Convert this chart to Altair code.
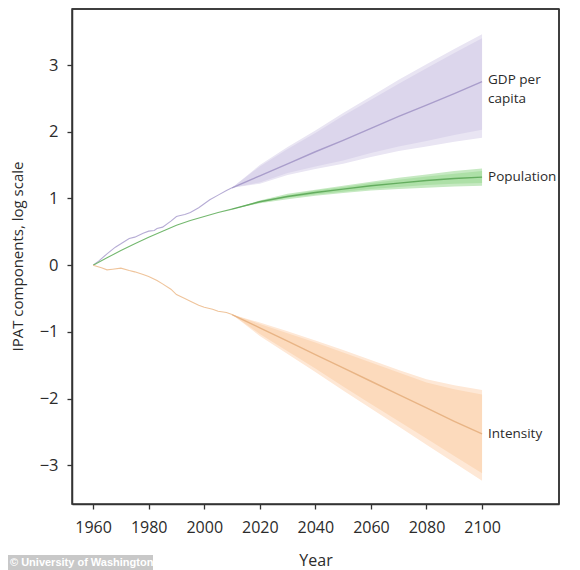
import altair as alt
import pandas as pd

# ---------------- data ----------------
gdp_hist_years = [1960, 1962, 1965, 1968, 1970, 1973, 1975, 1978, 1980, 1982, 1983, 1985,
                  1988, 1990, 1991, 1993, 1995, 1998, 2000, 2002, 2005, 2008, 2010]
gdp_hist_vals = [0.0, 0.06, 0.17, 0.27, 0.32, 0.40, 0.42, 0.48, 0.51, 0.52, 0.55, 0.57,
                 0.66, 0.73, 0.74, 0.76, 0.79, 0.86, 0.92, 0.98, 1.05, 1.12, 1.16]

pop_hist_years = [1960, 1965, 1970, 1975, 1980, 1985, 1990, 1995, 2000, 2005, 2010]
pop_hist_vals = [0.0, 0.11, 0.22, 0.32, 0.42, 0.51, 0.60, 0.67, 0.73, 0.79, 0.84]

int_hist_years = [1960, 1963, 1965, 1967, 1970, 1973, 1975, 1978, 1980, 1983, 1985, 1988,
                  1990, 1993, 1995, 1998, 2000, 2003, 2005, 2008, 2010]
int_hist_vals = [0.0, -0.04, -0.07, -0.06, -0.045, -0.08, -0.10, -0.14, -0.17, -0.23, -0.28,
                 -0.36, -0.44, -0.50, -0.54, -0.60, -0.63, -0.66, -0.69, -0.71, -0.74]

proj_years = [2010, 2020, 2030, 2040, 2050, 2060, 2070, 2080, 2090, 2100]

gdp_med = [1.16, 1.34, 1.52, 1.70, 1.87, 2.05, 2.23, 2.40, 2.57, 2.75]
gdp_hi95 = [1.16, 1.50, 1.77, 2.02, 2.28, 2.53, 2.78, 3.01, 3.24, 3.46]
gdp_lo95 = [1.16, 1.22, 1.35, 1.44, 1.52, 1.62, 1.71, 1.78, 1.85, 1.91]
gdp_hi80 = [1.16, 1.48, 1.74, 1.98, 2.24, 2.48, 2.72, 2.95, 3.18, 3.40]
gdp_lo80 = [1.16, 1.24, 1.38, 1.48, 1.57, 1.68, 1.78, 1.86, 1.95, 2.03]

pop_med = [0.84, 0.95, 1.03, 1.09, 1.14, 1.19, 1.23, 1.27, 1.30, 1.32]
pop_hi95 = [0.84, 0.97, 1.07, 1.13, 1.19, 1.25, 1.31, 1.36, 1.41, 1.45]
pop_lo95 = [0.84, 0.93, 0.99, 1.04, 1.08, 1.12, 1.14, 1.16, 1.18, 1.19]
pop_hi80 = [0.84, 0.96, 1.05, 1.12, 1.17, 1.23, 1.28, 1.33, 1.37, 1.41]
pop_lo80 = [0.84, 0.94, 1.01, 1.06, 1.10, 1.14, 1.17, 1.20, 1.22, 1.23]

int_med = [-0.74, -0.94, -1.14, -1.34, -1.54, -1.74, -1.94, -2.14, -2.34, -2.53]
int_hi95 = [-0.74, -0.86, -0.99, -1.13, -1.27, -1.42, -1.57, -1.71, -1.80, -1.87]
int_lo95 = [-0.74, -1.06, -1.33, -1.60, -1.88, -2.15, -2.42, -2.69, -2.96, -3.23]
int_hi80 = [-0.74, -0.88, -1.02, -1.16, -1.31, -1.46, -1.61, -1.76, -1.86, -1.94]
int_lo80 = [-0.74, -1.03, -1.29, -1.55, -1.82, -2.08, -2.34, -2.60, -2.86, -3.12]

series_labels = ["GDP per\ncapita", "Population", "Intensity"]

y_ticks = [-3, -2, -1, 0, 1, 2, 3]
x_ticks = [1960, 1980, 2000, 2020, 2040, 2060, 2080, 2100]

# ---------------- styling ----------------
FONT = "Open Sans"
TXT = "#2b2b2b"
FRAME = "#333333"
W, H = 487, 495
styles = {
    "gdp": dict(outer="#e9e5f3", inner="#dcd6ec", line="#a99dcb", hist="#b6acd5"),
    "pop": dict(outer="#c6e9c2", inner="#ade0a7", line="#64ad5f", hist="#74b86f"),
    "int": dict(outer="#fee8d6", inner="#fcdabc", line="#e8b485", hist="#efc49b"),
}

xscale = alt.Scale(domain=[1952.4, 2127.7], nice=False, zero=False)
yscale = alt.Scale(domain=[-3.58, 3.84], nice=False, zero=False)

xaxis = alt.Axis(values=x_ticks, format="d", title="Year", grid=False,
                 labelFontSize=16, labelPadding=10, tickSize=5, titleFontSize=16,
                 titleY=56, titleBaseline="middle", titleFontWeight="normal")
yaxis = alt.Axis(values=y_ticks, title="IPAT components, log scale", grid=False,
                 labelFontSize=16.5, labelPadding=9, tickSize=5, titleFontSize=15,
                 titleX=-55, titleY=247, titleAngle=-90, titleBaseline="middle",
                 titleAlign="center", titleFontWeight="normal")


def X():
    return alt.X("year:Q", scale=xscale, axis=xaxis)


def Y(field):
    return alt.Y(field, scale=yscale, axis=yaxis)


layers = []
series = [
    ("gdp", gdp_hist_years, gdp_hist_vals, gdp_med, gdp_lo95, gdp_hi95, gdp_lo80, gdp_hi80),
    ("pop", pop_hist_years, pop_hist_vals, pop_med, pop_lo95, pop_hi95, pop_lo80, pop_hi80),
    ("int", int_hist_years, int_hist_vals, int_med, int_lo95, int_hi95, int_lo80, int_hi80),
]

for key, hy, hv, med, lo95, hi95, lo80, hi80 in series:
    st = styles[key]
    proj = pd.DataFrame({"year": proj_years, "med": med, "lo95": lo95, "hi95": hi95,
                         "lo80": lo80, "hi80": hi80})
    hist = pd.DataFrame({"year": hy, "val": hv})
    outer = alt.Chart(proj).mark_area(color=st["outer"], opacity=1).encode(
        x=X(), y=Y("lo95:Q"), y2="hi95:Q")
    inner = alt.Chart(proj).mark_area(color=st["inner"], opacity=1).encode(
        x=X(), y=Y("lo80:Q"), y2="hi80:Q")
    medline = alt.Chart(proj).mark_line(color=st["line"], strokeWidth=1.4).encode(
        x=X(), y=Y("med:Q"))
    histline = alt.Chart(hist).mark_line(color=st["hist"], strokeWidth=1.1).encode(
        x=X(), y=Y("val:Q"))
    layers += [outer, inner, medline, histline]

lab_df = pd.DataFrame({
    "year": [proj_years[-1]] * 3,
    "val": [gdp_med[-1] + 0.03, pop_med[-1], int_med[-1]],
    "label": series_labels,
})
labels = alt.Chart(lab_df).mark_text(align="left", baseline="middle", dx=6,
                                     fontSize=13.5, font=FONT, color=TXT,
                                     lineBreak="\n", lineHeight=19).encode(
    x=X(), y=Y("val:Q"), text="label:N")

# top and right edges of the frame box
frame_df = pd.DataFrame({"k": [0]})
top_edge = alt.Chart(frame_df).mark_rule(color=FRAME, strokeWidth=1.5).encode(
    x=alt.value(0), x2=alt.value(W), y=alt.value(0))
right_edge = alt.Chart(frame_df).mark_rule(color=FRAME, strokeWidth=1.5).encode(
    x=alt.value(W), y=alt.value(0), y2=alt.value(H))

# watermark credit in the bottom-left corner
credit = pd.DataFrame({"t": ["© University of Washington"]})
credit_box = alt.Chart(credit).mark_rect(color="#c8c8c8").encode(
    x=alt.value(-64), x2=alt.value(81), y=alt.value(546), y2=alt.value(561))
credit_txt = alt.Chart(credit).mark_text(
    align="left", baseline="middle", color="white", fontWeight="bold",
    fontSize=11, font="Liberation Sans").encode(
    x=alt.value(-62), y=alt.value(554), text="t:N")

chart = alt.layer(*layers, labels, top_edge, right_edge, credit_box, credit_txt).properties(
    width=W, height=H,
    background="white",
    autosize=alt.AutoSizeParams(type="none"),
    padding={"left": 64, "top": 1, "right": 5, "bottom": 66},
).configure_view(
    stroke=FRAME, strokeWidth=1.5
).configure_axis(
    domainColor=FRAME, domainWidth=1.5, tickColor=FRAME, tickWidth=1.3,
    labelColor=TXT, titleColor=TXT, labelFont=FONT, titleFont=FONT,
)

chart.save("out.html", embed_options={"renderer": "svg", "actions": False})
